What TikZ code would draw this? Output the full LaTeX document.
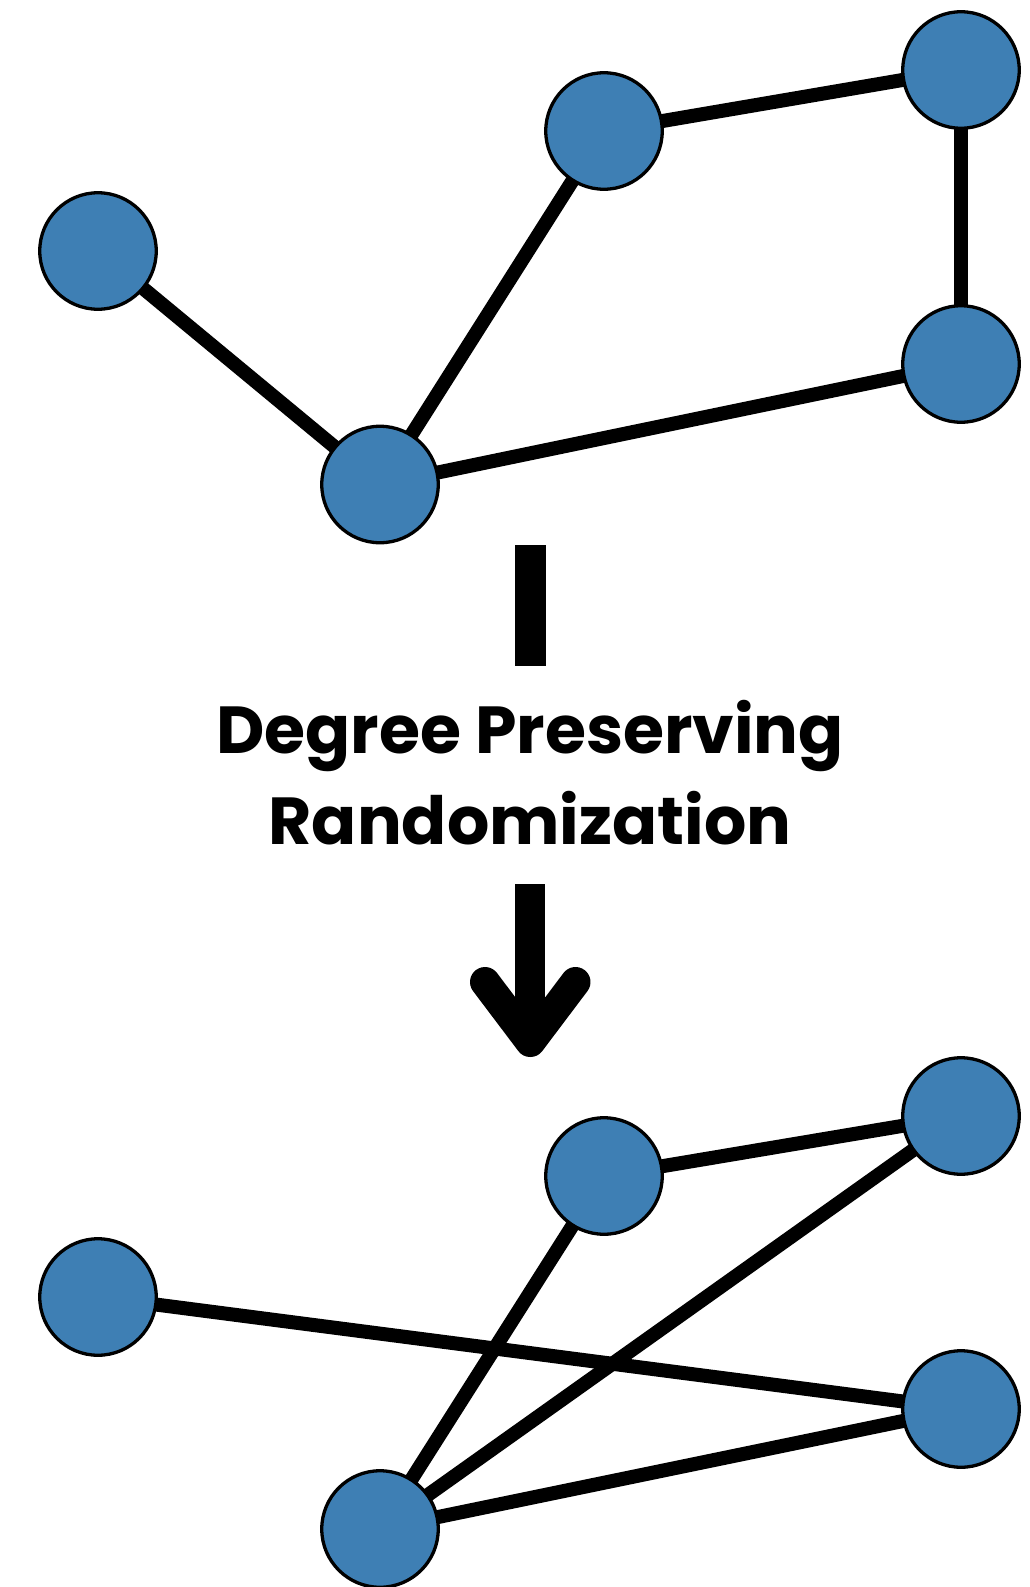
\documentclass[tikz,border=0pt]{standalone}
\usepackage{fontspec}
\setmainfont{Poppins}
\usetikzlibrary{backgrounds}
\definecolor{nodeblue}{RGB}{62,127,180}
\begin{document}
\begin{tikzpicture}[x=1pt,y=-1pt,
  vertex/.style={circle,fill=nodeblue,draw=black,line width=3.3pt,minimum size=116.5pt,inner sep=0pt},
  edge/.style={line width=14pt,black},
  bar/.style={line width=30.4pt,black},
  chev/.style={line width=30pt,black,line cap=round,line join=round},
  lbl/.style={font=\fontsize{66.5}{92}\selectfont\bfseries,anchor=base,inner sep=0pt,text=black}]
\useasboundingbox (0,0) rectangle (1030,1587);
% top graph
\node[vertex] (A) at (98,251) {};
\node[vertex] (B) at (604,131) {};
\node[vertex] (C) at (961,70) {};
\node[vertex] (D) at (961,364) {};
\node[vertex] (E) at (380,484.5) {};
% bottom graph
\node[vertex] (A2) at (98,1297) {};
\node[vertex] (B2) at (604,1176) {};
\node[vertex] (C2) at (961,1116) {};
\node[vertex] (D2) at (961,1409) {};
\node[vertex] (E2) at (380,1529) {};
\begin{pgfonlayer}{background}
\fill[white] (0,0) rectangle (1030,1587);
\draw[edge] (A.center) -- (E.center);
\draw[edge] (E.center) -- (B.center);
\draw[edge] (B.center) -- (C.center);
\draw[edge] (C.center) -- (D.center);
\draw[edge] (D.center) -- (E.center);
\draw[edge] (A2.center) -- (D2.center);
\draw[edge] (E2.center) -- (B2.center);
\draw[edge] (B2.center) -- (C2.center);
\draw[edge] (C2.center) -- (E2.center);
\draw[edge] (E2.center) -- (D2.center);
\end{pgfonlayer}
% middle
\coordinate (bartop) at (530.5,545);
\coordinate (barbot) at (530.5,666);
\draw[bar] (bartop) -- (barbot);
\node[lbl] (t1) at (530,753) {Degree Preserving};
\node[lbl] (t2) at (530,844) {Randomization};
\coordinate (shafttop) at (530.3,884);
\coordinate (tip) at (530.3,1042);
\coordinate (armL) at (485,982);
\coordinate (armR) at (575.5,982);
\draw[bar,line width=30pt] (shafttop) -- (tip);
\draw[chev] (armL) -- (tip) -- (armR);
\end{tikzpicture}
\end{document}
